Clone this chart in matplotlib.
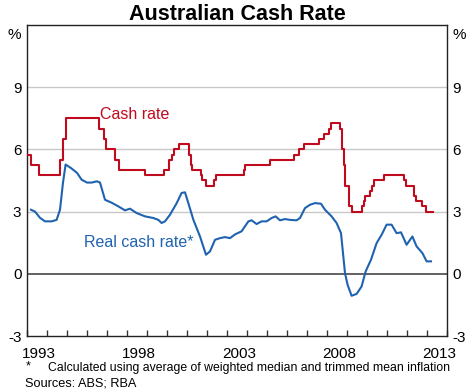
import matplotlib
matplotlib.use("Agg")
import matplotlib.pyplot as plt
import numpy as np

plt.rcParams['font.family'] = ['Liberation Sans', 'DejaVu Sans']
plt.rcParams['axes.unicode_minus'] = False

# Cash rate: change dates (decimal years) and new rate levels
cash_dates = [1993.0, 1993.22, 1993.58, 1994.63, 1994.81, 1994.95, 1996.58, 1996.85,
              1996.94, 1997.39, 1997.58, 1998.92, 1999.84, 2000.09, 2000.26, 2000.34,
              2000.59, 2001.10, 2001.18, 2001.26, 2001.68, 2001.76, 2001.93, 2002.35,
              2002.43, 2003.85, 2003.92, 2005.17, 2006.34, 2006.59, 2006.86, 2007.60,
              2007.85, 2008.10, 2008.18, 2008.67, 2008.77, 2008.85, 2008.92, 2009.09,
              2009.27, 2009.77, 2009.84, 2009.92, 2010.17, 2010.26, 2010.34, 2010.84,
              2011.84, 2011.93, 2012.33, 2012.43, 2012.76, 2012.93, 2013.3]
cash_rate = [5.75, 5.25, 4.75, 5.5, 6.5, 7.5, 7.0, 6.5,
             6.0, 5.5, 5.0, 4.75, 5.0, 5.5, 5.75, 6.0,
             6.25, 5.75, 5.25, 5.0, 4.75, 4.5, 4.25, 4.5,
             4.75, 5.0, 5.25, 5.5, 5.75, 6.0, 6.25, 6.5,
             6.75, 7.0, 7.25, 7.0, 6.0, 5.25, 4.25, 3.25,
             3.0, 3.25, 3.5, 3.75, 4.0, 4.25, 4.5, 4.75,
             4.5, 4.25, 3.75, 3.5, 3.25, 3.0, 3.0]

# Real cash rate
real_dates = [1993.2, 1993.4, 1993.65, 1993.9, 1994.23, 1994.48, 1994.65, 1994.8, 1994.93,
              1995.2, 1995.5, 1995.73, 1996.0, 1996.23, 1996.5, 1996.65, 1996.9, 1997.23,
              1997.57, 1997.9, 1998.15, 1998.48, 1998.9, 1999.32, 1999.57, 1999.73, 1999.9,
              2000.15, 2000.48, 2000.73, 2000.9, 2001.07, 2001.32, 2001.65, 2001.95, 2002.15,
              2002.4, 2002.65, 2002.9, 2003.15, 2003.4, 2003.73, 2004.07, 2004.23, 2004.48,
              2004.73, 2004.98, 2005.23, 2005.43, 2005.65, 2005.9, 2006.15, 2006.48, 2006.65,
              2006.9, 2007.15, 2007.4, 2007.7, 2007.9, 2008.23, 2008.48, 2008.7, 2008.9,
              2009.03, 2009.23, 2009.48, 2009.73, 2009.93, 2010.2, 2010.48, 2010.73, 2010.98,
              2011.23, 2011.48, 2011.7, 2011.98, 2012.27, 2012.48, 2012.77, 2012.98, 2013.2]
real_rate = [3.09, 3.0, 2.7, 2.53, 2.53, 2.6, 3.09, 4.4, 5.27,
             5.1, 4.87, 4.54, 4.4, 4.4, 4.46, 4.4, 3.57, 3.43,
             3.25, 3.06, 3.14, 2.93, 2.77, 2.69, 2.6, 2.45, 2.53,
             2.85, 3.4, 3.9, 3.93, 3.4, 2.6, 1.8, 0.92, 1.08,
             1.64, 1.72, 1.77, 1.72, 1.9, 2.05, 2.53, 2.58, 2.4,
             2.53, 2.53, 2.69, 2.77, 2.58, 2.64, 2.6, 2.58, 2.69,
             3.17, 3.33, 3.41, 3.38, 3.09, 2.77, 2.45, 1.96, 0.03,
             -0.53, -1.06, -0.97, -0.61, 0.11, 0.68, 1.48, 1.88, 2.37,
             2.37, 1.96, 2.0, 1.4, 1.8, 1.32, 1.0, 0.6, 0.6]

y_ticks = [-3, 0, 3, 6, 9]
year_labels = ['1993', '1998', '2003', '2008', '2013']

RED = '#c00a1e'
BLUE = '#1f63b0'

fig = plt.figure(figsize=(4.7, 3.92), dpi=100)
ax = fig.add_axes([27/470, 1-336/392, 420/470, 311/392])

ax.set_xlim(1993, 2014)
ax.set_ylim(-3, 12)

for v in [3, 6, 9]:
    ax.axhline(v, color='#c8c8c8', lw=1.0, zorder=1)
ax.axhline(0, color='#555555', lw=1.3, zorder=1)

ax.plot(cash_dates, cash_rate, drawstyle='steps-post', color=RED, lw=1.5, zorder=3)
ax.plot(real_dates, real_rate, color=BLUE, lw=1.5, zorder=3)

ax.text(1998.4, 7.7, 'Cash rate', color=RED, fontsize=11.5, ha='center', va='center')
ax.text(1998.6, 1.5, 'Real cash rate*', color=BLUE, fontsize=11.5, ha='center', va='center')

# y axis labels on both sides
ax.set_yticks(y_ticks)
ax.tick_params(axis='y', length=0, labelsize=11, labelleft=True, labelright=True, pad=4)

# x ticks: year boundaries (inward), labels mid-year
ax.set_xticks(np.arange(1993, 2015, 1))
ax.set_xticklabels([])
ax.tick_params(axis='x', which='major', direction='in', length=4, width=1, color='#333333')
ax.set_xticks([int(y) + 0.6 for y in year_labels], minor=True)
ax.set_xticklabels(year_labels, minor=True)
ax.tick_params(axis='x', which='minor', length=0, labelsize=11, pad=8)

for s in ax.spines.values():
    s.set_color('#222222')
    s.set_linewidth(1.0)

fig.text(14/470, 1-35/392, '%', fontsize=11, ha='center', va='center')
fig.text(459/470, 1-35/392, '%', fontsize=11, ha='center', va='center')

fig.text(237/470, 1-14/392, 'Australian Cash Rate', fontsize=15.5, fontweight='bold',
         ha='center', va='center')

fig.text(26/470, 1-366/392, '*', fontsize=9, ha='left', va='center')
fig.text(48/470, 1-368/392, 'Calculated using average of weighted median and trimmed mean inflation',
         fontsize=8.8, ha='left', va='center')
fig.text(25/470, 1-384/392, 'Sources: ABS; RBA', fontsize=9.2, ha='left', va='center')

fig.savefig('out.png', dpi=100)
